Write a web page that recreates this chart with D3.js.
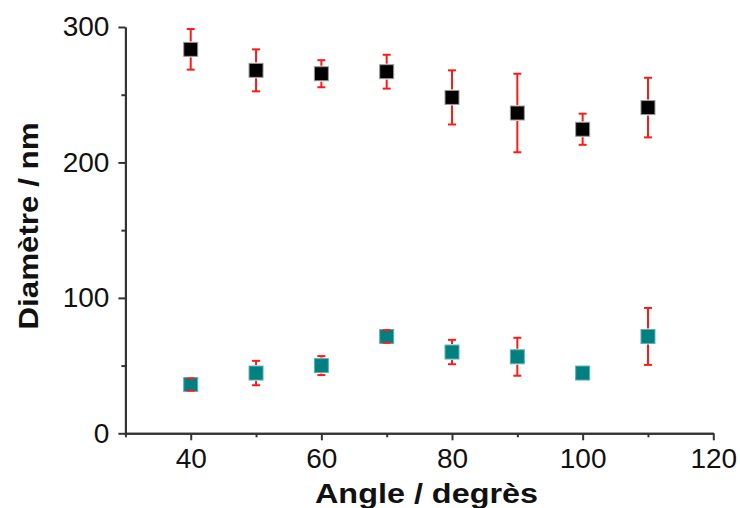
<!DOCTYPE html>
<html>
<head>
<meta charset="utf-8">
<script src="https://cdn.jsdelivr.net/npm/d3@7"></script>
<style>
html,body{margin:0;padding:0;background:#fff;}
svg{display:block;font-family:"Liberation Sans",Arial,sans-serif;}
</style>
</head>
<body>
<svg id="chart" width="740" height="508"></svg>
<script>
const angles = [40, 50, 60, 70, 80, 90, 100, 110];
const diamLarge = [283.5, 268, 265.5, 267, 248, 236.5, 224.5, 240.5];
const errLarge = [15, 15.5, 10, 12.5, 20, 29, 11.5, 22];
const diamSmall = [36, 44.5, 50, 71.5, 60, 56.5, 44.5, 71.5];
const errSmall = [4.5, 9, 7, 4.7, 9, 14, 0, 21];
const xMajor = [40, 60, 80, 100, 120];
const xMinor = [30, 50, 70, 90, 110];
const yMajor = [0, 100, 200, 300];
const yMinor = [50, 150, 250];
const xTitle = "Angle / degrès";
const yTitle = "Diamètre / nm";

const svg = d3.select("#chart");
const x = d3.scaleLinear().domain([30, 120]).range([125.4, 713.3]);
const y = d3.scaleLinear().domain([0, 300]).range([433.3, 27]);
const x0 = x.range()[0], y0 = y.range()[0];

// axes
function styleAxis(g) {
  g.selectAll("path.domain").attr("stroke", "#333").attr("stroke-width", 2);
  g.selectAll(".tick line").attr("stroke", "#333").attr("stroke-width", 2);
  g.selectAll(".tick text").attr("fill", "#111").attr("font-size", 28);
}
const gxMin = svg.append("g").attr("transform", `translate(0,${y0})`)
  .call(d3.axisBottom(x).tickValues(xMinor).tickSize(4).tickSizeOuter(0).tickFormat(""));
styleAxis(gxMin);
const gx = svg.append("g").attr("transform", `translate(0,${y0})`)
  .call(d3.axisBottom(x).tickValues(xMajor).tickSize(7).tickSizeOuter(0).tickPadding(8).tickFormat(d3.format("d")));
styleAxis(gx);
const gyMin = svg.append("g").attr("transform", `translate(${x0},0)`)
  .call(d3.axisLeft(y).tickValues(yMinor).tickSize(4).tickSizeOuter(0).tickFormat(""));
styleAxis(gyMin);
const gy = svg.append("g").attr("transform", `translate(${x0},0)`)
  .call(d3.axisLeft(y).tickValues(yMajor).tickSize(7).tickSizeOuter(0).tickPadding(9).tickFormat(d3.format("d")));
styleAxis(gy);

// titles
svg.append("text").attr("x", 426.5).attr("y", 503).attr("text-anchor", "middle")
  .attr("font-size", 28).attr("font-weight", "bold").attr("fill", "#111")
  .attr("textLength", 223).attr("lengthAdjust", "spacingAndGlyphs").text(xTitle);
svg.append("text").attr("transform", "translate(38,226) rotate(-90)").attr("text-anchor", "middle")
  .attr("font-size", 28).attr("font-weight", "bold").attr("fill", "#111")
  .attr("textLength", 207).attr("lengthAdjust", "spacingAndGlyphs").text(yTitle);

// series
const S = 14, half = S / 2, cap = 4;
function drawSeries(vals, errs, fill, stroke) {
  const data = angles.map((a, i) => ({a, v: vals[i], e: errs[i]}));
  const g = svg.append("g");
  g.selectAll("rect").data(data).join("rect")
    .attr("x", d => x(d.a) - half).attr("y", d => y(d.v) - half)
    .attr("width", S).attr("height", S)
    .attr("fill", fill).attr("stroke", stroke).attr("stroke-width", 1);
  const eb = svg.append("g").attr("stroke", "#ff1a1a").attr("stroke-width", 2).attr("fill", "none");
  data.filter(d => d.e > 0).forEach(d => {
    const cx = x(d.a), cy = y(d.v), top = y(d.v + d.e), bot = y(d.v - d.e);
    if (top < cy - half - 1) eb.append("line").attr("x1", cx).attr("x2", cx).attr("y1", top).attr("y2", cy - half - 1);
    if (bot > cy + half + 1) eb.append("line").attr("x1", cx).attr("x2", cx).attr("y1", bot).attr("y2", cy + half + 1);
    eb.append("line").attr("x1", cx - cap).attr("x2", cx + cap).attr("y1", top).attr("y2", top);
    eb.append("line").attr("x1", cx - cap).attr("x2", cx + cap).attr("y1", bot).attr("y2", bot);
  });
}
drawSeries(diamLarge, errLarge, "#000000", "#9a9a9a");
drawSeries(diamSmall, errSmall, "#008080", "#5fb0b0");
</script>
</body>
</html>
